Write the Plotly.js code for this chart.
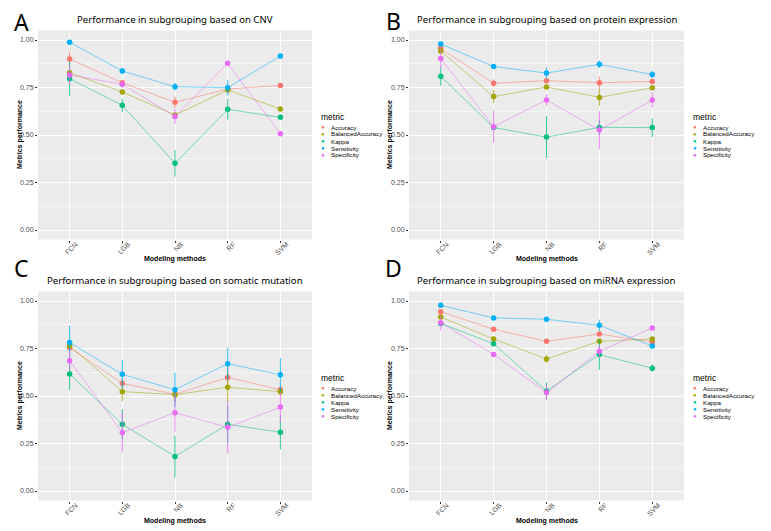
<!DOCTYPE html>
<html>
<head>
<meta charset="utf-8">
<script src="https://cdn.plot.ly/plotly-3.0.1.min.js"></script>
<style>html,body{margin:0;padding:0;background:#fff;}#chart{width:771px;height:531px;}</style>
</head>
<body>
<div id="chart"></div>
<script>
// ---------- data ----------
const methods = ['FCN', 'LGB', 'NB', 'RF', 'SVM'];
const metrics = ['Accuracy', 'BalancedAccuracy', 'Kappa', 'Sensitivity', 'Specificity'];
const panelTitles = [
  'Performance in subgrouping based on CNV',
  'Performance in subgrouping based on protein expression',
  'Performance in subgrouping based on somatic mutation',
  'Performance in subgrouping based on miRNA expression'
];
const panelLetters = ['A', 'B', 'C', 'D'];
const xAxisTitle = 'Modeling methods';
const yAxisTitle = 'Metrics performance';
const legendTitle = 'metric';

// A: CNV
const cnvAccuracy         = [0.900, 0.775, 0.672, 0.742, 0.761];
const cnvBalancedAccuracy = [0.828, 0.726, 0.605, 0.737, 0.637];
const cnvKappa            = [0.796, 0.656, 0.351, 0.635, 0.593];
const cnvSensitivity      = [0.988, 0.837, 0.754, 0.749, 0.916];
const cnvSpecificity      = [0.816, 0.767, 0.598, 0.877, 0.507];
const cnvAccuracyErr         = [0.040, 0.010, 0.030, 0.010, 0.005];
const cnvBalancedAccuracyErr = [0.010, 0.010, 0.010, 0.010, 0.005];
const cnvKappaErr            = [0.090, 0.035, 0.070, 0.055, 0.005];
const cnvSensitivityErr      = [0.005, 0.015, 0.020, 0.040, 0.005];
const cnvSpecificityErr      = [0.050, 0.020, 0.040, 0.005, 0.005];

// B: protein expression
const protAccuracy         = [0.956, 0.772, 0.786, 0.775, 0.782];
const protBalancedAccuracy = [0.942, 0.702, 0.753, 0.698, 0.749];
const protKappa            = [0.809, 0.539, 0.489, 0.540, 0.539];
const protSensitivity      = [0.979, 0.860, 0.826, 0.872, 0.818];
const protSpecificity      = [0.902, 0.544, 0.684, 0.526, 0.684];
const protAccuracyErr         = [0.010, 0.020, 0.010, 0.033, 0.010];
const protBalancedAccuracyErr = [0.015, 0.035, 0.010, 0.045, 0.010];
const protKappaErr            = [0.050, 0.010, 0.110, 0.040, 0.050];
const protSensitivityErr      = [0.005, 0.005, 0.030, 0.020, 0.020];
const protSpecificityErr      = [0.050, 0.085, 0.030, 0.100, 0.040];

// C: somatic mutation
const mutAccuracy         = [0.754, 0.567, 0.509, 0.598, 0.533];
const mutBalancedAccuracy = [0.765, 0.523, 0.507, 0.546, 0.523];
const mutKappa            = [0.616, 0.351, 0.182, 0.351, 0.309];
const mutSensitivity      = [0.781, 0.614, 0.533, 0.670, 0.612];
const mutSpecificity      = [0.686, 0.307, 0.412, 0.335, 0.442];
const mutAccuracyErr         = [0.030, 0.030, 0.040, 0.060, 0.020];
const mutBalancedAccuracyErr = [0.020, 0.050, 0.040, 0.080, 0.020];
const mutKappaErr            = [0.085, 0.080, 0.110, 0.100, 0.090];
const mutSensitivityErr      = [0.090, 0.075, 0.090, 0.085, 0.088];
const mutSpecificityErr      = [0.050, 0.105, 0.100, 0.140, 0.080];

// D: miRNA expression
const mirAccuracy         = [0.944, 0.851, 0.788, 0.826, 0.784];
const mirBalancedAccuracy = [0.916, 0.800, 0.695, 0.788, 0.800];
const mirKappa            = [0.882, 0.775, 0.526, 0.718, 0.646];
const mirSensitivity      = [0.977, 0.911, 0.904, 0.872, 0.763];
const mirSpecificity      = [0.886, 0.719, 0.518, 0.735, 0.858];
const mirAccuracyErr         = [0.010, 0.005, 0.010, 0.010, 0.010];
const mirBalancedAccuracyErr = [0.010, 0.010, 0.020, 0.010, 0.010];
const mirKappaErr            = [0.010, 0.010, 0.045, 0.080, 0.020];
const mirSensitivityErr      = [0.005, 0.005, 0.005, 0.030, 0.010];
const mirSpecificityErr      = [0.040, 0.010, 0.040, 0.030, 0.010];

const yTickVals = [0, 0.25, 0.5, 0.75, 1];
const yTickText = ['0.00', '0.25', '0.50', '0.75', '1.00'];

// ---------- styling ----------
const colors = ['#F8766D', '#A3A500', '#00BF7D', '#00B0F6', '#E76BF3'];
function rgba(hex, a) {
  const n = parseInt(hex.slice(1), 16);
  return 'rgba(' + ((n >> 16) & 255) + ',' + ((n >> 8) & 255) + ',' + (n & 255) + ',' + a + ')';
}
const W = 771, H = 531;
const px = x => x / W, py = y => 1 - y / H;
const SANS = 'Liberation Sans, Arial, sans-serif';
const TITLEFONT = 'Noto Sans, Open Sans, sans-serif';

const panels = [
  {vals: [cnvAccuracy, cnvBalancedAccuracy, cnvKappa, cnvSensitivity, cnvSpecificity],
   errs: [cnvAccuracyErr, cnvBalancedAccuracyErr, cnvKappaErr, cnvSensitivityErr, cnvSpecificityErr],
   x0: 38, x1: 312, y0: 30.5, y1: 239.5, titleY: 20, letterX: 21, letterY: 22, legX: 319, legY: 117,
   ytX: 20, xtY: 259},
  {vals: [protAccuracy, protBalancedAccuracy, protKappa, protSensitivity, protSpecificity],
   errs: [protAccuracyErr, protBalancedAccuracyErr, protKappaErr, protSensitivityErr, protSpecificityErr],
   x0: 409, x1: 684, y0: 30.5, y1: 239.5, titleY: 20, letterX: 394, letterY: 21, legX: 691, legY: 117,
   ytX: 390, xtY: 259},
  {vals: [mutAccuracy, mutBalancedAccuracy, mutKappa, mutSensitivity, mutSpecificity],
   errs: [mutAccuracyErr, mutBalancedAccuracyErr, mutKappaErr, mutSensitivityErr, mutSpecificityErr],
   x0: 38, x1: 312, y0: 291.5, y1: 500.5, titleY: 280, letterX: 21, letterY: 268, legX: 319, legY: 378,
   ytX: 20, xtY: 521},
  {vals: [mirAccuracy, mirBalancedAccuracy, mirKappa, mirSensitivity, mirSpecificity],
   errs: [mirAccuracyErr, mirBalancedAccuracyErr, mirKappaErr, mirSensitivityErr, mirSpecificityErr],
   x0: 409, x1: 684, y0: 291.5, y1: 500.5, titleY: 280, letterX: 394, letterY: 268, legX: 691, legY: 378,
   ytX: 390, xtY: 521}
];

const traces = [];
const annotations = [];
const layout = {
  width: W, height: H,
  margin: {l: 0, r: 0, t: 0, b: 0},
  paper_bgcolor: '#FFFFFF',
  plot_bgcolor: '#EBEBEB',
  showlegend: false,
  font: {family: SANS, color: '#000'},
  annotations: annotations
};

panels.forEach((p, pi) => {
  const sfx = pi === 0 ? '' : String(pi + 1);
  const xa = 'x' + sfx, ya = 'y' + sfx;
  metrics.forEach((m, mi) => {
    traces.push({
      type: 'scatter', mode: 'lines+markers',
      name: m, x: methods, y: p.vals[mi],
      xaxis: xa, yaxis: ya,
      line: {color: rgba(colors[mi], 0.5), width: 1},
      marker: {color: colors[mi], size: 5.5},
      error_y: {type: 'data', array: p.errs[mi], visible: true, thickness: 1, width: 0, color: rgba(colors[mi], 0.8)},
      hoverinfo: 'x+y+name'
    });
  });
  layout['xaxis' + sfx] = {
    domain: [px(p.x0), px(p.x1)], anchor: ya,
    type: 'category', categoryorder: 'array', categoryarray: methods,
    range: [-0.6, 4.6],
    showgrid: true, gridcolor: '#FFFFFF', gridwidth: 1, zeroline: false,
    showline: false, ticks: 'outside', ticklen: 2, tickcolor: '#333333',
    tickangle: -45, tickfont: {size: 7, color: '#4D4D4D', family: SANS},
    ticklabelstandoff: -5, ticklabelshift: 6,
    automargin: false, fixedrange: true
  };
  layout['yaxis' + sfx] = {
    domain: [py(p.y1), py(p.y0)], anchor: xa,
    range: [-0.05, 1.05],
    tickvals: yTickVals, ticktext: yTickText,
    showgrid: true, gridcolor: '#FFFFFF', gridwidth: 1, zeroline: false,
    minor: {dtick: 0.125, tick0: 0, showgrid: true, gridcolor: '#FFFFFF', gridwidth: 0.5, ticks: ''},
    showline: false, ticks: 'outside', ticklen: 2, tickcolor: '#333333',
    tickfont: {size: 7, color: '#4D4D4D', family: SANS},
    automargin: false, fixedrange: true
  };
  // axis titles
  annotations.push({
    xref: 'paper', yref: 'paper', x: px((p.x0 + p.x1) / 2), y: py(p.xtY),
    xanchor: 'center', yanchor: 'middle', showarrow: false,
    text: '<b>' + xAxisTitle + '</b>', font: {size: 7, color: '#000', family: SANS}
  });
  annotations.push({
    xref: 'paper', yref: 'paper', x: px(p.ytX), y: py((p.y0 + p.y1) / 2),
    xanchor: 'center', yanchor: 'middle', showarrow: false, textangle: -90,
    text: '<b>' + yAxisTitle + '</b>', font: {size: 7, color: '#000', family: SANS}
  });
  // panel title
  annotations.push({
    xref: 'paper', yref: 'paper', x: px((p.x0 + p.x1) / 2), y: py(p.titleY),
    xanchor: 'center', yanchor: 'middle', showarrow: false,
    text: panelTitles[pi], font: {family: TITLEFONT, size: 9.6, color: '#000'}
  });
  // panel letter
  annotations.push({
    xref: 'paper', yref: 'paper', x: px(p.letterX), y: py(p.letterY),
    xanchor: 'center', yanchor: 'middle', showarrow: false,
    text: panelLetters[pi], font: {family: TITLEFONT, size: 23, color: '#000'}
  });
  // legend (ggplot-style, compact)
  annotations.push({
    xref: 'paper', yref: 'paper', x: px(p.legX), y: py(p.legY),
    xanchor: 'left', yanchor: 'middle', showarrow: false,
    text: legendTitle, font: {size: 8.5, color: '#000', family: SANS}
  });
  metrics.forEach((m, mi) => {
    const yy = p.legY + 10 + 7 * mi;
    annotations.push({
      xref: 'paper', yref: 'paper', x: px(p.legX + 4), y: py(yy),
      xanchor: 'center', yanchor: 'middle', showarrow: false,
      text: '●', font: {size: 6, color: colors[mi], family: SANS}
    });
    annotations.push({
      xref: 'paper', yref: 'paper', x: px(p.legX + 10), y: py(yy),
      xanchor: 'left', yanchor: 'middle', showarrow: false,
      text: m, font: {size: 6.2, color: '#000', family: SANS}
    });
  });
});

Plotly.newPlot('chart', traces, layout, {staticPlot: true, displayModeBar: false});
</script>
</body>
</html>
